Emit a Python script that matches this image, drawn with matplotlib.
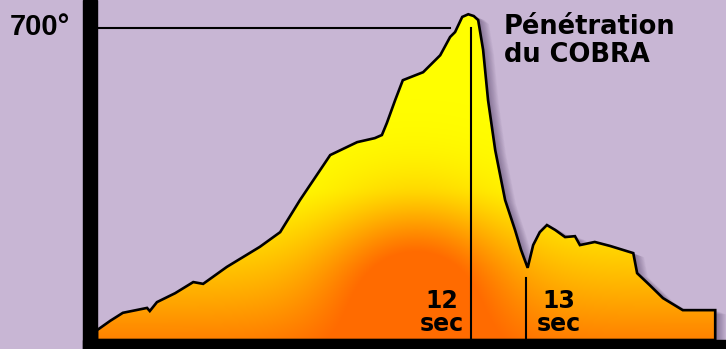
"""Cobra penetration temperature profile (reproduction)."""

import matplotlib

matplotlib.use("Agg")
import matplotlib.pyplot as plt  # noqa: E402
import numpy as np  # noqa: E402
from matplotlib.patches import Rectangle  # noqa: E402
from matplotlib.transforms import offset_copy  # noqa: E402

# time (s) and temperature (degrees)
time_s = [5.20, 5.44, 5.67, 6.11, 6.16, 6.29, 6.62, 6.95, 7.13, 7.56, 8.16,
          8.53, 8.89, 9.44, 9.71, 9.93, 10.25, 10.38, 10.47, 10.62, 10.76,
          11.13, 11.44, 11.62, 11.71, 11.84, 11.95, 12.05, 12.13, 12.22,
          12.31, 12.44, 12.62, 12.80, 12.91, 13.03, 13.13, 13.25, 13.38,
          13.53, 13.71, 13.89, 13.98, 14.25, 14.53, 14.95, 15.02, 15.25,
          15.49, 15.85, 16.16, 16.44]
temp_deg = [22, 43, 61, 72, 65, 85, 105, 130, 126, 164, 209,
            242, 314, 415, 431, 444, 453, 460, 487, 538, 583,
            601, 639, 680, 691, 725, 731, 727, 718, 651,
            538, 426, 314, 247, 202, 162, 213, 242, 258,
            247, 231, 233, 213, 220, 211, 195, 150, 123,
            94, 67, 67, 67]

ref_temp = 700
ref_label = "700°"
markers_s = [12, 13]
marker_tops = [700, 140]
marker_labels = ["12\nsec", "13\nsec"]
title_text = "Pénétration\ndu COBRA"

BG = "#c8b6d4"
XLIM = (5.2, 16.636)
YLIM = (0, 763)

fig = plt.figure(figsize=(7.26, 3.49), dpi=100, facecolor=BG)
ax = fig.add_axes([97 / 726, 9 / 349, 629 / 726, 340 / 349])
ax.set_facecolor(BG)
ax.set_xlim(*XLIM)
ax.set_ylim(*YLIM)
ax.set_axis_off()

t = np.r_[time_s[0], time_s, time_s[-1]]
T = np.r_[0, temp_deg, 0]

# soft drop shadow
for k in range(1, 13):
    tr = offset_copy(ax.transData, fig=fig, x=k * 0.9, y=-k * 0.35, units="dots")
    ax.fill(t, T, color="#2a1640", alpha=0.04, lw=0, transform=tr, zorder=1)

# yellow -> orange gradient with a hot spot near the peak base
gx, gy = np.meshgrid(np.linspace(*XLIM, 400), np.linspace(*YLIM, 300))
vert = np.clip((340 - gy) / 340, 0, 1) ** 1.2
spot = np.exp(-(((gx - 11.0) / 1.7) ** 2 + ((gy - 150) / 180) ** 2))
f = np.clip(0.85 * vert + 0.75 * spot, 0, 1)
yellow = np.array([1.0, 1.0, 0.0])
orange = np.array([1.0, 0.42, 0.0])
rgb = yellow[None, None, :] * (1 - f[..., None]) + orange[None, None, :] * f[..., None]

poly = ax.fill(t, T, facecolor="none", edgecolor="black", lw=1.9, zorder=4)[0]
im = ax.imshow(rgb, extent=[*XLIM, *YLIM], origin="lower", aspect="auto", zorder=2)
im.set_clip_path(poly)

# reference line at 700 degrees
ax.plot([XLIM[0], 11.62], [ref_temp, ref_temp], color="black", lw=1.5, zorder=5)

# second markers
for s, top, lab in zip(markers_s, marker_tops, marker_labels):
    ax.plot([s, s], [0, top], color="black", lw=1.5, zorder=5)
    ax.text(s - 0.53 if s == 12 else s + 0.6, 8, lab, ha="center", va="bottom",
            fontsize=17, fontweight="bold", family="DejaVu Sans",
            linespacing=0.95, zorder=6)

fig.text(10 / 726, 1 - 27 / 349, ref_label, ha="left", va="center",
         fontsize=21, fontweight="bold", family="Liberation Sans")
fig.text(504 / 726, 1 - 14 / 349, title_text, ha="left", va="top",
         fontsize=18.5, fontweight="bold", family="DejaVu Sans",
         linespacing=1.1)

# heavy black axis bars
fig.patches.append(Rectangle((83 / 726, 0), 14 / 726, 1, transform=fig.transFigure,
                             color="black", zorder=10))
fig.patches.append(Rectangle((83 / 726, 0), 643 / 726, 9 / 349,
                             transform=fig.transFigure, color="black", zorder=10))

fig.savefig("out.png", dpi=100, facecolor=BG)
